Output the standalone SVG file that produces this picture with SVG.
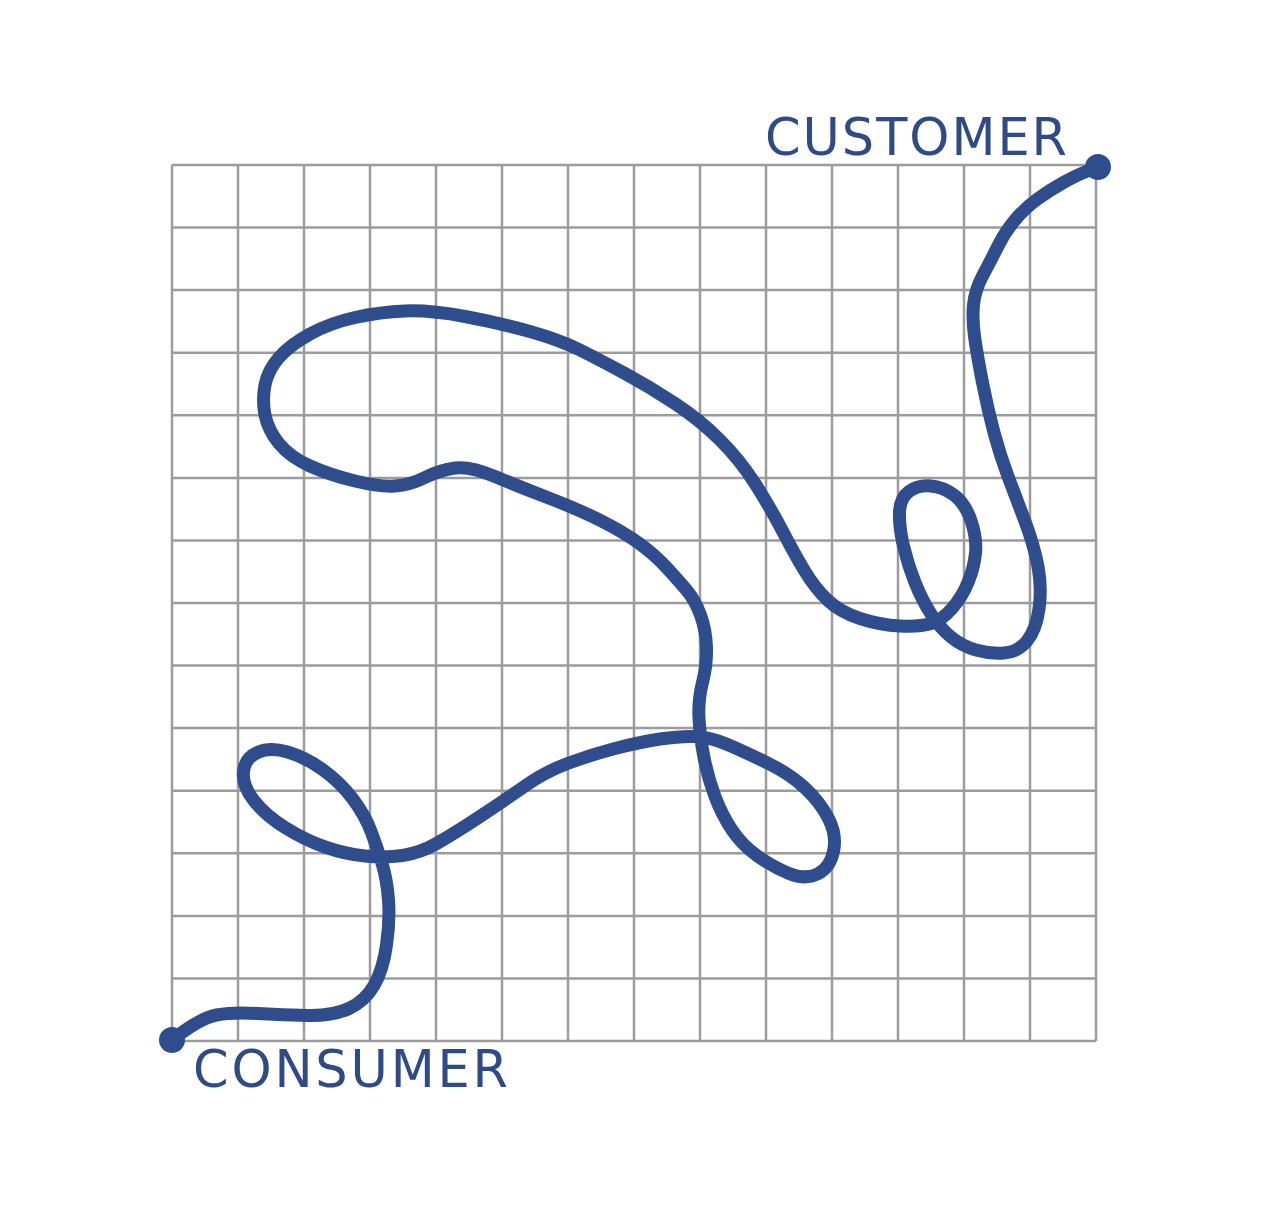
<svg xmlns="http://www.w3.org/2000/svg" width="1280" height="1207" viewBox="0 0 1280 1207">
<style>
.grid line{stroke:#9c9c9c;stroke-width:2.5}
.path{fill:none;stroke:#2f4d8d;stroke-width:13;stroke-linecap:round;stroke-linejoin:round}
.dot{fill:#2f4d8d}
.lbl{font-family:"DejaVu Sans","Noto Sans","Liberation Sans",sans-serif;font-size:51px;fill:#2f4a84}
</style>
<rect width="1280" height="1207" fill="#ffffff"/>
<g id="grid" class="grid">
<line x1="172" y1="165" x2="172" y2="1041"/>
<line x1="238" y1="165" x2="238" y2="1041"/>
<line x1="304" y1="165" x2="304" y2="1041"/>
<line x1="370" y1="165" x2="370" y2="1041"/>
<line x1="436" y1="165" x2="436" y2="1041"/>
<line x1="502" y1="165" x2="502" y2="1041"/>
<line x1="568" y1="165" x2="568" y2="1041"/>
<line x1="634" y1="165" x2="634" y2="1041"/>
<line x1="700" y1="165" x2="700" y2="1041"/>
<line x1="766" y1="165" x2="766" y2="1041"/>
<line x1="832" y1="165" x2="832" y2="1041"/>
<line x1="898" y1="165" x2="898" y2="1041"/>
<line x1="964" y1="165" x2="964" y2="1041"/>
<line x1="1030" y1="165" x2="1030" y2="1041"/>
<line x1="1096" y1="165" x2="1096" y2="1041"/>
<line x1="172" y1="165" x2="1096" y2="165"/>
<line x1="172" y1="227.6" x2="1096" y2="227.6"/>
<line x1="172" y1="290.1" x2="1096" y2="290.1"/>
<line x1="172" y1="352.7" x2="1096" y2="352.7"/>
<line x1="172" y1="415.3" x2="1096" y2="415.3"/>
<line x1="172" y1="477.9" x2="1096" y2="477.9"/>
<line x1="172" y1="540.4" x2="1096" y2="540.4"/>
<line x1="172" y1="603" x2="1096" y2="603"/>
<line x1="172" y1="665.6" x2="1096" y2="665.6"/>
<line x1="172" y1="728.1" x2="1096" y2="728.1"/>
<line x1="172" y1="790.7" x2="1096" y2="790.7"/>
<line x1="172" y1="853.3" x2="1096" y2="853.3"/>
<line x1="172" y1="915.9" x2="1096" y2="915.9"/>
<line x1="172" y1="978.4" x2="1096" y2="978.4"/>
<line x1="172" y1="1041" x2="1096" y2="1041"/>
</g>
<g id="connectors">
<path class="path" d="M172,1040 Q200,1018 216.5,1015 Q233,1012 258,1013.5 Q283,1015 308,1015.5 Q333,1016 349,1008.5 Q365,1001 374,985.5 Q383,970 386.5,945 Q390,920 388.5,900 Q387,880 382.5,865 Q378,850 371.5,832.5 Q365,815 352.5,798.5 Q340,782 322.5,769.5 Q305,757 287.5,752 Q270,747 257.5,752.5 Q245,758 243.5,771.5 Q242,785 253.5,800 Q265,815 285,827.5 Q305,840 325,847 Q345,854 365,856 Q385,858 402.5,855.5 Q420,853 437.5,843 Q455,833 480,816.5 Q505,800 525,786 Q545,772 567.5,763.5 Q590,755 615,748.5 Q640,742 660,739 Q680,736 695,736.5 Q710,737 727.5,744.5 Q745,752 767.5,763 Q790,774 805,788 Q820,802 828.5,818.5 Q837,835 833.5,851.5 Q830,868 817.5,874 Q805,880 789,873.5 Q773,867 757.5,856 Q742,845 732,830 Q722,815 715,796.5 Q708,778 704,757.5 Q700,737 699,718.5 Q698,700 702.5,682.5 Q707,665 706.5,647.5 Q706,630 700.5,615 Q695,600 686.5,590 Q678,580 666.5,567.5 Q655,555 640,544 Q625,533 602.5,521.5 Q580,510 550,498.5 Q520,487 495,476.5 Q470,466 455,468 Q440,470 425,477.5 Q410,485 395,486 Q380,487 355,481 Q330,475 310,466 Q290,457 279,443.5 Q268,430 265,415 Q262,400 265,385 Q268,370 279,357.5 Q290,345 310,334 Q330,323 355,317.5 Q380,312 405,311 Q430,310 465,316.5 Q500,323 530,331.5 Q560,340 580,350 Q600,360 625,373.5 Q650,387 675,403.5 Q700,420 720,440 Q740,460 755,483.5 Q770,507 782.5,531 Q795,555 805,571.5 Q815,588 827.5,600 Q840,612 860,618.5 Q880,625 900,626 Q920,627 931,623.5 Q942,620 952,608.5 Q962,597 968,582.5 Q974,568 975.5,553 Q977,538 971,520.5 Q965,503 954,495 Q943,487 930.5,486 Q918,485 909,491.5 Q900,498 899.5,512.5 Q899,527 903.5,546 Q908,565 915,582.5 Q922,600 931,614 Q940,628 951,637 Q962,646 976,650 Q990,654 1004,653 Q1018,652 1027,641 Q1036,630 1039,609 Q1042,588 1038,566.5 Q1034,545 1024.5,520 Q1015,495 1007.5,475 Q1000,455 994,432.5 Q988,410 983,385 Q978,360 975,340 Q972,320 973.5,305 Q975,290 982.5,276 Q990,262 997.5,247 Q1005,232 1015,220 Q1025,208 1037.5,199 Q1050,190 1063.5,182.5 Q1077,175 1087.5,171 L1098,167"/>
</g>
<g id="consumer">
<circle class="dot" cx="172" cy="1040" r="13"/>
<text class="lbl" x="193" y="1087" textLength="315" lengthAdjust="spacing">CONSUMER</text>
</g>
<g id="customer">
<circle class="dot" cx="1098" cy="167" r="13"/>
<text class="lbl" x="765" y="155" textLength="302" lengthAdjust="spacing">CUSTOMER</text>
</g>
</svg>
